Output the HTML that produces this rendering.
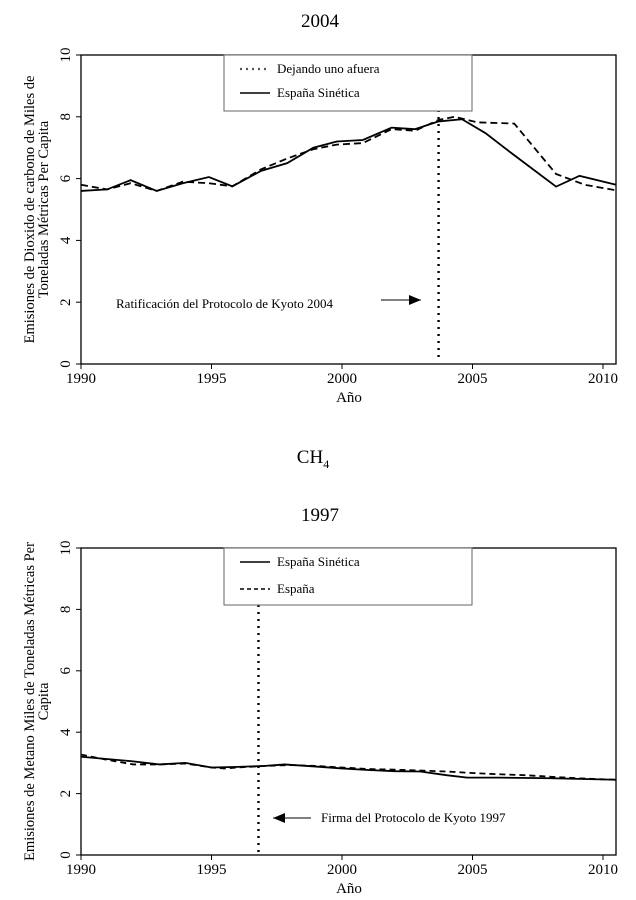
<!DOCTYPE html>
<html><head><meta charset="utf-8"><style>
body{margin:0;background:#fff;width:636px;height:900px;overflow:hidden}
svg{display:block;font-family:"Liberation Serif",serif}
</style></head><body>
<svg id="svg" width="636" height="900" viewBox="0 0 636 900">
<text x="320" y="27" font-size="19" text-anchor="middle">2004</text>
<text x="313" y="463" font-size="19" text-anchor="middle">CH<tspan font-size="12" dy="5">4</tspan></text>
<text x="320" y="521" font-size="19" text-anchor="middle">1997</text>
<g id="top"></g>
<g id="bot"></g>
</svg>
<script>
const xTicks=[1990,1995,2000,2005,2010];
const yTicks=[0,2,4,6,8,10];
const co2Years=[1990,1991,1991.9,1992.9,1993.9,1994.9,1995.8,1996.9,1997.9,1998.9,1999.8,2000.8,2001.9,2002.8,2003.7,2004.6,2005.5,2006.5,2008.2,2009.1,2010.5];
const co2Synth=[5.6,5.65,5.95,5.6,5.85,6.05,5.75,6.25,6.5,7.0,7.2,7.25,7.65,7.6,7.85,7.92,7.47,6.82,5.74,6.09,5.8];
const co2LooYears=[1990,1991,1991.9,1992.9,1993.9,1994.9,1995.8,1996.9,1997.9,1998.9,1999.8,2000.8,2001.9,2002.8,2003.7,2004.3,2005.2,2006.6,2008.2,2009.3,2010.5];
const co2Loo=[5.8,5.65,5.85,5.6,5.9,5.85,5.75,6.3,6.65,6.95,7.1,7.15,7.6,7.55,7.9,8.0,7.82,7.78,6.15,5.8,5.62];
const ch4Years=[1990,1992,1993,1994,1995,1996,1997,1997.8,1999,2000,2001,2002,2003,2004,2004.8,2006,2008,2010.5];
const ch4Synth=[3.2,3.05,2.95,3.0,2.85,2.87,2.9,2.95,2.88,2.82,2.77,2.73,2.72,2.6,2.52,2.52,2.5,2.45];
const ch4SpYears=[1990,1991,1992,1993,1994,1995,1995.5,1996,1997,1998,1999,2000,2001,2002,2003,2004,2005,2006,2007,2008,2009,2010.5];
const ch4Spain=[3.27,3.1,2.95,2.95,2.98,2.85,2.82,2.85,2.9,2.93,2.9,2.85,2.8,2.78,2.75,2.72,2.67,2.63,2.6,2.55,2.5,2.45];
const NS="http://www.w3.org/2000/svg";
function mk(p,t,a,txt){const e=document.createElementNS(NS,t);for(const k in a)e.setAttribute(k,a[k]);if(txt!=null)e.textContent=txt;p.appendChild(e);return e;}
const L=81,R=616,x=y=>L+(y-1990)*26.1;
function chart(g,top,bot,ylab,series,vline,legend,legRect,anno){
 const y=v=>bot-(v/10)*(bot-top);
 const frame=mk(g,'rect',{x:L,y:top,width:R-L,height:bot-top,fill:'none',stroke:'#000','stroke-width':1.3});
 
 xTicks.forEach(t=>{const tl=mk(g,'line',{x1:x(t),x2:x(t),y1:bot,y2:bot+5,stroke:'#000'});
  
  const tx=mk(g,'text',{x:x(t),y:bot+19,'font-size':15,'text-anchor':'middle'},String(t));
  });
 yTicks.forEach(t=>{const tl=mk(g,'line',{x1:L-5,x2:L,y1:y(t),y2:y(t),stroke:'#000'});
  
  const tx=mk(g,'text',{x:0,y:0,'font-size':15,'text-anchor':'middle',transform:`translate(${L-11},${y(t)}) rotate(-90)`},String(t));
  });
 const xt=mk(g,'text',{x:349,y:bot+38,'font-size':15,'text-anchor':'middle'},'Año');
 
 const yt=mk(g,'text',{x:0,y:0,'font-size':14.5,'text-anchor':'middle',transform:`translate(34,${(top+bot)/2}) rotate(-90)`});
 
 ylab.forEach((s,i)=>mk(yt,'tspan',{x:0,dy:i?14:0},s));
 const vl=mk(g,'line',{x1:x(vline[0]),x2:x(vline[0]),y1:vline[1],y2:bot-3,stroke:'#000','stroke-width':2.4,'stroke-dasharray':'2 5'});
 
 series.forEach(s=>{const pl=mk(g,'polyline',{points:s.xs.map((v,i)=>x(v)+','+y(s.ys[i])).join(' '),fill:'none',stroke:'#000','stroke-width':1.8,'stroke-dasharray':s.dash||'none'});
  });
 const lg=mk(g,'g',{});
 mk(lg,'rect',{x:224,y:top,width:248,height:legRect,fill:'#fff',stroke:'#666','stroke-width':1});
 legend.forEach((e,i)=>{const ly=top+legend[i].dy;
  const li=mk(lg,'line',{x1:240,x2:270,y1:ly,y2:ly,stroke:e.c||'#000','stroke-width':e.w||1.5,'stroke-dasharray':e.dash||'none'});
  
  const lt=mk(lg,'text',{x:277,y:ly+4,'font-size':13},e.t);
  });
 const an=mk(g,'g',{});
 mk(an,'text',{x:anno.tx,y:anno.ty,'font-size':13},anno.t);
 mk(an,'line',{x1:anno.a1,x2:anno.a2,y1:anno.ay,y2:anno.ay,stroke:'#000','stroke-width':1});
 const d=anno.a2>anno.a1?1:-1;
 mk(an,'polygon',{points:`${anno.a2},${anno.ay} ${anno.a2-d*12},${anno.ay-5} ${anno.a2-d*12},${anno.ay+5}`,fill:'#000'});
}
chart(document.getElementById('top'),55,364,['Emisiones de Dioxido de carbono de Miles de','Toneladas Métricas Per Capita'],
 [{xs:co2LooYears,ys:co2Loo,dash:'7 4',name:'series-dejando-uno-afuera'},{xs:co2Years,ys:co2Synth,name:'series-espana-sinetica'}],
 [2003.7,110],[{t:'Dejando uno afuera',dy:14,dash:'2 4',c:'#555',w:2.2},{t:'España Sinética',dy:38}],56,
 {tx:116,ty:308,t:'Ratificación del Protocolo de Kyoto 2004',a1:381,a2:421,ay:300});
chart(document.getElementById('bot'),548,855,['Emisiones de Metano Miles de Toneladas Métricas Per','Capita'],
 [{xs:ch4SpYears,ys:ch4Spain,dash:'6 4',name:'series-espana'},{xs:ch4Years,ys:ch4Synth,name:'series-espana-sinetica'}],
 [1996.8,605],[{t:'España Sinética',dy:14},{t:'España',dy:41,dash:'4 3'}],57,
 {tx:321,ty:822,t:'Firma del Protocolo de Kyoto 1997',a1:311,a2:273,ay:818});
</script>
</body></html>
